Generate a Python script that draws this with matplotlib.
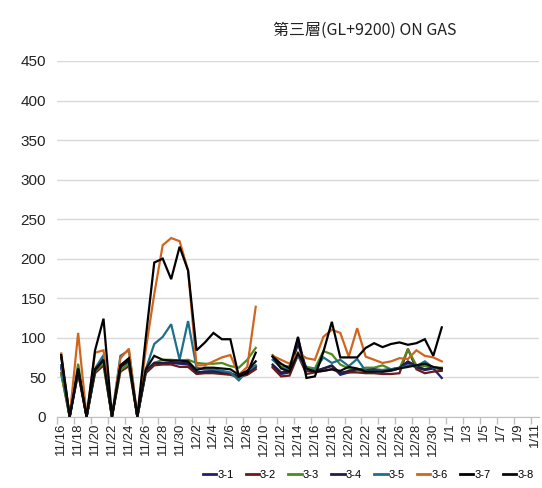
import numpy as np
import pandas as pd
import matplotlib
matplotlib.use("Agg")
import matplotlib.pyplot as plt

nan = np.nan

# categories: daily dates 11/16 .. 1/11
dates = pd.date_range("2023-11-16", "2024-01-11", freq="D")
categories = [f"{d.month}/{d.day}" for d in dates]

series_names = ["3-1", "3-2", "3-3", "3-4", "3-5", "3-6", "3-7", "3-8"]
series_colors = ["#1F1F6E", "#6E1A1A", "#4F8A1A", "#241C44", "#1F6F8B", "#D2651E", "#000000", "#0A0A0A"]

s31 = [62, 0, 56, 0, 60, 74, 0, 62, 72, 0, 57, 68, 68, 68, 67, 66, 56, 57, 58, 57, 55, 50, 55, 62, nan,
       64, 54, 56, 99, 58, 57, 61, 64, 53, 56, 59, 58, 59, 57, 58, 61, 68, 62, 59, 61, 49]
s32 = [55, 0, 55, 0, 55, 65, 0, 57, 64, 0, 55, 65, 66, 66, 63, 63, 54, 55, 55, 54, 53, 50, 53, 60, nan,
       62, 51, 52, 78, 54, 56, 58, 60, 56, 56, 56, 55, 55, 54, 54, 55, 86, 60, 55, 57, 58]
s33 = [54, 0, 67, 0, 57, 68, 0, 59, 67, 0, 58, 68, 72, 72, 71, 72, 68, 67, 67, 68, 64, 62, 72, 87, nan,
       78, 63, 64, 78, 63, 61, 83, 79, 66, 61, 59, 62, 62, 65, 60, 61, 85, 65, 64, 62, 62]
s34 = [65, 0, 58, 0, 58, 72, 0, 63, 70, 0, 58, 68, 68, 69, 68, 68, 56, 57, 57, 56, 55, 51, 56, 64, nan,
       66, 56, 58, 92, 60, 58, 61, 65, 55, 58, 60, 59, 60, 59, 60, 62, 70, 64, 60, 62, 60]
s35 = [64, 0, 60, 0, 61, 78, 0, 77, 84, 0, 60, 92, 101, 117, 72, 121, 62, 60, 60, 58, 56, 46, 58, 65, nan,
       72, 62, 59, 78, 60, 59, 75, 68, 72, 64, 73, 58, 58, 59, 60, 61, 65, 64, 70, 62, 61]
s36 = [80, 0, 106, 0, 81, 84, 0, 74, 86, 0, 85, 155, 217, 226, 222, 185, 65, 65, 70, 75, 78, 53, 63, 139, nan,
       77, 72, 67, 81, 74, 72, 101, 110, 106, 76, 112, 76, 72, 68, 70, 74, 73, 84, 77, 75, 70]
s37 = [78, 0, 61, 0, 84, 124, 0, 65, 74, 0, 100, 195, 200, 174, 215, 185, 84, 94, 106, 98, 98, 51, 55, 81, nan,
       76, 67, 61, 101, 49, 51, 82, 120, 75, 75, 75, 87, 93, 88, 92, 94, 91, 93, 98, 77, 113]
s38 = [75, 0, 60, 0, 60, 72, 0, 64, 72, 0, 60, 77, 72, 71, 71, 70, 59, 62, 62, 61, 60, 53, 58, 70, nan,
       76, 61, 57, 80, 61, 57, 58, 60, 58, 63, 61, 57, 57, 57, 59, 61, 63, 65, 67, 63, 61]
series_values = [s31, s32, s33, s34, s35, s36, s37, s38]

y_ticks = [0, 50, 100, 150, 200, 250, 300, 350, 400, 450]
title = "第三層(GL+9200) ON GAS"

fig = plt.figure(figsize=(5.42, 4.88), dpi=100)
ax = fig.add_axes([57 / 542, 1 - 416.7 / 488, (539 - 57) / 542, (416.7 - 61) / 488])

for name, vals, col in zip(series_names, series_values, series_colors):
    x = np.arange(len(vals))
    ax.plot(x, vals, color=col, lw=1.6, label=name, solid_joinstyle="miter")

ax.set_xlim(-0.5, len(categories) - 0.5)
ax.set_ylim(0, 450)
ax.set_yticks(y_ticks)
ax.set_yticklabels([str(v) for v in y_ticks], fontsize=11, family="Liberation Sans", color="#222222")
ax.yaxis.grid(True, color="#D9D9D9", lw=1)
ax.set_axisbelow(True)

label_pos = np.arange(0, len(categories), 2)
ax.set_xticks(label_pos)
ax.set_xticklabels([categories[i] for i in label_pos], rotation=90, fontsize=9.5,
                   family="Liberation Sans", color="#222222")
ax.tick_params(axis="x", length=0, pad=4)
ax.set_xticks(np.arange(-0.5, len(categories), 2), minor=True)
ax.tick_params(axis="x", which="minor", length=5, color="#BFBFBF", width=1)
ax.tick_params(axis="y", length=0, pad=8)

for sp in ["top", "right", "left"]:
    ax.spines[sp].set_visible(False)
ax.spines["bottom"].set_color("#BFBFBF")

fig.text(365 / 542, 1 - 30 / 488, title, ha="center", va="center", fontsize=11.5,
         family=["Noto Sans CJK TC", "DejaVu Sans"], color="#222222")

leg = fig.legend(loc="center", bbox_to_anchor=(368 / 542, 1 - 475 / 488), ncol=8, frameon=False,
                 handlelength=1.2, columnspacing=1.1, handletextpad=0.1,
                 prop={"family": "Liberation Sans", "size": 8})
for line in leg.get_lines():
    line.set_linewidth(2)

fig.savefig("out.png", dpi=100)
